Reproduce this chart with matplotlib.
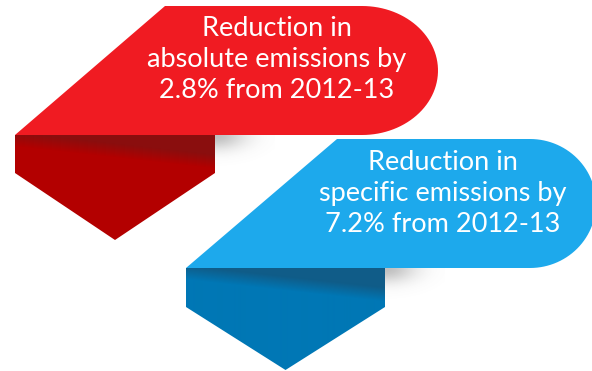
import numpy as np
import matplotlib.pyplot as plt
from matplotlib.patches import Polygon

plt.rcParams['font.family'] = ['Lato', 'DejaVu Sans']

labels = ['Reduction in\nabsolute emissions by\n2.8% from 2012-13',
          'Reduction in\nspecific emissions by\n7.2% from 2012-13']
label_pos = [(277, 60), (443, 194)]
colors = ['#f01b22', '#1da9ec']
fold_colors = ['#b30000', '#0077b5']
fold_dark = ['#8a0e0e', '#105c88']

# banner geometry: x_top_left, y_top, x_bottom_left, y_bottom, x_round, rx, fold_right, fold_mid, fold_tip
banners = [
    (165, 6, 15, 135, 362, 76, 215, 173, 240),
    (337, 139, 186, 268, 530, 66, 385, 307, 370),
]


def banner_path(x0, y0, x1, y1, xr, rx):
    cy = (y0 + y1) / 2
    ry = (y1 - y0) / 2
    t = np.linspace(-np.pi / 2, np.pi / 2, 60)
    ex = xr + rx * np.cos(t)
    ey = cy + ry * np.sin(t)
    return [(x0, y0)] + list(zip(ex, ey)) + [(x1, y1)]


fig = plt.figure(figsize=(5.92, 3.71), dpi=100)
ax = fig.add_axes([0, 0, 1, 1])
ax.set_xlim(0, 592)
ax.set_ylim(371, 0)
ax.axis('off')

for i, (x0, y0, x1, y1, xr, rx, fr, fm, ft) in enumerate(banners):
    # soft shadow under the banner, right of the fold
    sh = np.zeros((40, 60, 4))
    yy, xx = np.mgrid[0:40, 0:60]
    sh[..., :3] = 0.45
    sh[..., 3] = np.exp(-((xx / 30.0) ** 2)) * np.exp(-((yy / 14.0) ** 2)) * 0.45
    ax.imshow(sh, extent=(fr, fr + 60, y1 + 40, y1), zorder=1, interpolation='bilinear')

    # folded part with gradient
    tip_x = (x1 + fr) / 2
    fold = Polygon([(x1, y1), (fr, y1), (fr, fm), (tip_x, ft), (x1, fm)],
                   closed=True, facecolor='none', edgecolor='none', zorder=2)
    ax.add_patch(fold)
    c1 = np.array(plt.matplotlib.colors.to_rgb(fold_colors[i]))
    c2 = np.array(plt.matplotlib.colors.to_rgb(fold_dark[i]))
    gy, gx = np.mgrid[0:120, 0:200]
    edge = 4 + gx * 0.11
    w = np.clip((gy - edge) / 14.0 + 0.5, 0, 1)[..., None]
    grad = c2 * (1 - w) + c1 * w
    im = ax.imshow(grad, extent=(x1, fr, y1 + 120, y1), zorder=2, interpolation='bilinear')
    im.set_clip_path(fold)

    # main banner
    ax.add_patch(Polygon(banner_path(x0, y0, x1, y1, xr, rx), closed=True,
                         facecolor=colors[i], edgecolor='none', zorder=3))

    ax.text(label_pos[i][0], label_pos[i][1], labels[i], color='white', fontsize=19.5,
            ha='center', va='center', linespacing=1.3, zorder=4)

fig.savefig('out.png', dpi=100)
